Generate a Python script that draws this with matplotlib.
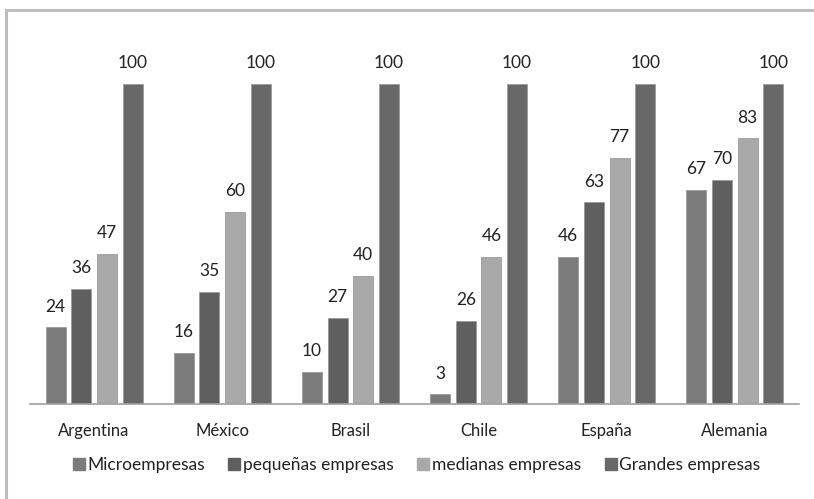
import matplotlib
matplotlib.use("Agg")
import matplotlib.pyplot as plt
from matplotlib.lines import Line2D
import numpy as np

plt.rcParams['font.family'] = ['Lato', 'DejaVu Sans']

paises = ["Argentina", "México", "Brasil", "Chile", "España", "Alemania"]
micro = [24, 16, 10, 3, 46, 67]
pequenas = [36, 35, 27, 26, 63, 70]
medianas = [47, 60, 40, 46, 77, 83]
grandes = [100, 100, 100, 100, 100, 100]

series = [
    ("Microempresas", micro, "#7b7b7b"),
    ("pequeñas empresas", pequenas, "#5f5f5f"),
    ("medianas empresas", medianas, "#a9a9a9"),
    ("Grandes empresas", grandes, "#686868"),
]

fig = plt.figure(figsize=(8.14, 4.99), dpi=100)
ax = fig.add_axes([30 / 814, 95 / 499, 769 / 814, 384 / 499])

x = np.arange(len(paises))
ancho = 0.156
offsets = [-0.3, -0.1, 0.1, 0.3]
for (nombre, vals, color), off in zip(series, offsets):
    barras = ax.bar(x + off, vals, ancho, color=color, edgecolor="#9a9a9a",
                    linewidth=0.6, label=nombre)
    for b, v in zip(barras, vals):
        ax.annotate(str(v), (b.get_x() + b.get_width() / 2, v),
                    xytext=(0, 9), textcoords="offset points",
                    ha="center", va="bottom", fontsize=12.5, color="#222222")

ax.set_xlim(-0.5, len(paises) - 0.5)
ax.set_ylim(0, 120)
ax.set_yticks([])
ax.set_xticks(x)
ax.set_xticklabels(paises, fontsize=12, color="#222222")
ax.tick_params(axis="x", length=0, pad=14)
for lado in ["top", "right", "left"]:
    ax.spines[lado].set_visible(False)
ax.spines["bottom"].set_color("#a0a0a0")
ax.spines["bottom"].set_linewidth(1.2)

handles = [Line2D([], [], marker="s", linestyle="none", markersize=8,
                  markerfacecolor=c, markeredgecolor=c) for _, _, c in series]
fig.legend(handles, [n for n, _, _ in series], loc="center",
           bbox_to_anchor=(416 / 814, 1 - 465 / 499), ncol=4, frameon=False,
           fontsize=12.5, handlelength=0.8, handletextpad=0.1,
           columnspacing=1.3, labelcolor="#222222")

# marco gris
fig.add_artist(Line2D([6 / 814, 1], [1 - 10 / 499, 1 - 10 / 499],
                      color="#bdbdbd", linewidth=2.2))
fig.add_artist(Line2D([6 / 814, 6 / 814], [0, 1 - 10 / 499],
                      color="#bdbdbd", linewidth=2.2))

fig.savefig("out.png", dpi=100)
